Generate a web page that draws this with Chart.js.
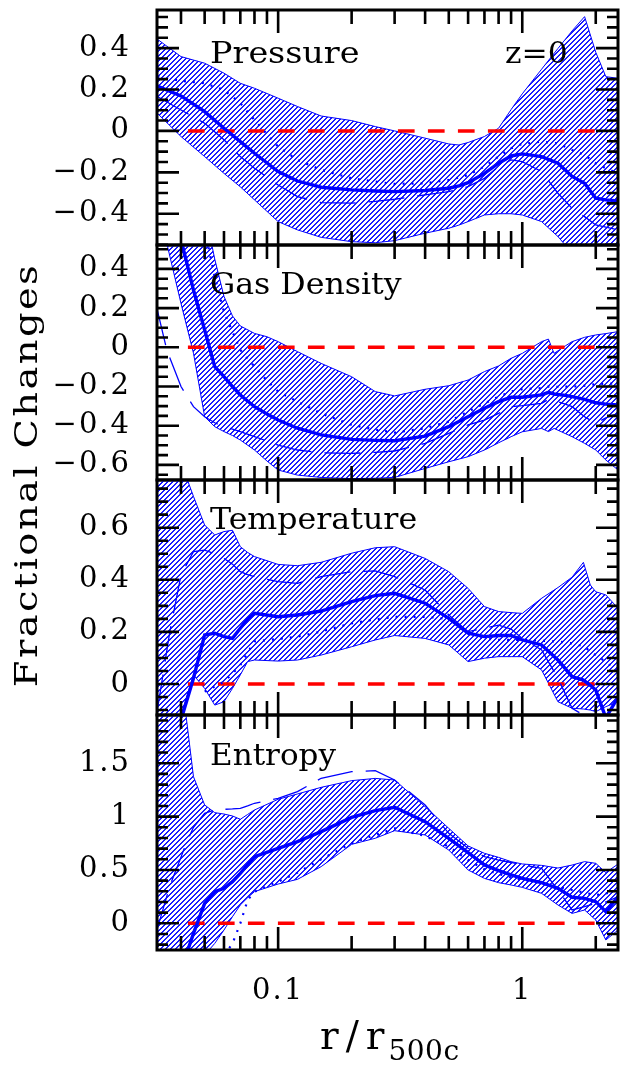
<!DOCTYPE html>
<html>
<head>
<meta charset="utf-8">
<script src="https://cdn.jsdelivr.net/npm/chart.js@4.4.0/dist/chart.umd.min.js"></script>
<style>
  html, body { margin: 0; padding: 0; background: #fff; }
  #wrap { position: relative; width: 621px; height: 1066px; overflow: hidden; background: #fff; }
  canvas { position: absolute; left: 0; }
  .txt { position: absolute; font-family: "DejaVu Serif", serif; color: #000; white-space: nowrap; line-height: 1; transform-origin: 0 0; }
</style>
</head>
<body>
<div id="wrap">
  <canvas id="c0" width="621" height="247" style="top:4px"></canvas>
  <canvas id="c1" width="621" height="247" style="top:239px"></canvas>
  <canvas id="c2" width="621" height="247" style="top:474px"></canvas>
  <canvas id="c3" width="621" height="357" style="top:709px"></canvas>

  <div class="txt" style="left:210px; top:39px; font-size:29px; transform:scaleX(1.15)">Pressure</div>
  <div class="txt" style="left:505px; top:39px; font-size:29px; transform:scaleX(1.08)">z=0</div>
  <div class="txt" style="left:210px; top:270px; font-size:29px; transform:scaleX(1.09)">Gas Density</div>
  <div class="txt" style="left:210px; top:505px; font-size:29px; transform:scaleX(1.09)">Temperature</div>
  <div class="txt" style="left:210px; top:741px; font-size:29px; transform:scaleX(1.07)">Entropy</div>

  <div class="txt" style="left:-214px; top:459px; width:480px; height:32px; font-size:32px; text-align:center; letter-spacing:2px; transform-origin:50% 50%; transform:rotate(-90deg) scaleX(1.2)">Fractional Changes</div>
  <div class="txt" style="left:320px; top:1016px; font-size:39px; letter-spacing:7px">r/r<span style="font-size:28px; letter-spacing:0.5px; position:relative; top:11px; margin-left:-3px">500c</span></div>
</div>

<script>
// ---- axes ----
const X_MIN = 0.0319, X_MAX = 2.467;
const xLabelTicks = [0.1, 1];
const xMinorTicks = [0.04, 0.05, 0.06, 0.07, 0.08, 0.09, 0.2, 0.3, 0.4, 0.5, 0.6, 0.7, 0.8, 0.9, 2];
const zeroLineR = [0.0427, 2.0];
const zeroLineV = [0, 0];

// ---- Pressure ----
const pressureTicks = [-0.4, -0.2, 0, 0.2, 0.4];
const pressureR   = [0.032, 0.04, 0.05, 0.06, 0.07, 0.08, 0.1, 0.12, 0.15, 0.2, 0.25, 0.3, 0.4, 0.5, 0.55, 0.6, 0.7, 0.8, 0.9, 1.0, 1.2, 1.4, 1.6, 1.8, 2.0, 2.2, 2.47];
const pressureHi  = [0.443, 0.359, 0.327, 0.279, 0.23, 0.206, 0.158, 0.118, 0.072, 0.05, 0.021, 0.0, -0.035, -0.063, -0.068, -0.056, -0.027, 0.013, 0.103, 0.179, 0.298, 0.398, 0.483, 0.552, 0.38, 0.262, 0.254];
const pressureLo  = [0.085, -0.027, -0.124, -0.205, -0.27, -0.333, -0.438, -0.478, -0.514, -0.535, -0.54, -0.53, -0.494, -0.47, -0.455, -0.438, -0.406, -0.4, -0.4, -0.406, -0.438, -0.51, -0.59, -0.65, -0.7, -0.72, -0.72];
const pressureMed = [0.217, 0.169, 0.093, 0.013, -0.052, -0.108, -0.196, -0.242, -0.272, -0.285, -0.29, -0.293, -0.288, -0.277, -0.265, -0.25, -0.205, -0.156, -0.121, -0.111, -0.124, -0.156, -0.22, -0.253, -0.325, -0.333, -0.338];
const pressureDash = [0.166, 0.101, 0.037, -0.043, -0.124, -0.18, -0.261, -0.317, -0.346, -0.349, -0.34, -0.33, -0.309, -0.293, -0.28, -0.269, -0.229, -0.172, -0.14, -0.148, -0.196, -0.301, -0.374, -0.414, -0.454, -0.465, -0.478];
const pressureDot = [0.262, 0.242, 0.23, 0.198, 0.134, 0.053, -0.076, -0.14, -0.188, -0.229, -0.245, -0.256, -0.253, -0.237, -0.225, -0.213, -0.172, -0.124, -0.084, -0.063, -0.052, -0.06, -0.092, -0.116, -0.156, -0.18, -0.205];

// ---- Gas Density ----
const densityTicks = [-0.6, -0.4, -0.2, 0, 0.2, 0.4];
const densityR   = [0.032, 0.035, 0.04, 0.045, 0.05, 0.055, 0.06, 0.065, 0.07, 0.08, 0.09, 0.1, 0.12, 0.15, 0.2, 0.25, 0.3, 0.4, 0.5, 0.6, 0.7, 0.8, 0.9, 1.0, 1.2, 1.28, 1.35, 1.5, 1.6, 1.8, 2.0, 2.2, 2.47];
const densityHi  = [1.2, 1.0, 0.9, 0.8, 0.7, 0.45, 0.26, 0.16, 0.109, 0.071, 0.054, 0.029, -0.022, -0.082, -0.15, -0.226, -0.248, -0.214, -0.196, -0.167, -0.124, -0.095, -0.056, -0.031, 0.029, 0.042, -0.031, 0.007, 0.029, 0.051, 0.063, 0.07, 0.08];
const densityLo  = [0.55, 0.53, 0.224, -0.03, -0.354, -0.405, -0.43, -0.45, -0.473, -0.524, -0.58, -0.626, -0.652, -0.664, -0.67, -0.668, -0.664, -0.618, -0.584, -0.558, -0.524, -0.487, -0.456, -0.431, -0.414, -0.43, -0.414, -0.44, -0.456, -0.49, -0.524, -0.575, -0.626];
const densityMed = [null, 1.2, 0.55, 0.292, 0.088, -0.099, -0.15, -0.2, -0.243, -0.303, -0.34, -0.371, -0.413, -0.447, -0.47, -0.475, -0.477, -0.453, -0.405, -0.354, -0.311, -0.277, -0.255, -0.255, -0.243, -0.23, -0.238, -0.245, -0.252, -0.266, -0.283, -0.29, -0.294];
const densityDash = [0.19, -0.014, -0.2, -0.303, -0.354, -0.385, -0.405, -0.418, -0.43, -0.456, -0.478, -0.499, -0.524, -0.538, -0.541, -0.536, -0.529, -0.49, -0.439, -0.396, -0.371, -0.337, -0.303, -0.298, -0.286, -0.266, -0.272, -0.29, -0.303, -0.354, -0.388, -0.36, -0.337];
const densityDot = [null, null, null, null, 0.6, 0.36, 0.18, 0.08, -0.014, -0.099, -0.17, -0.226, -0.277, -0.337, -0.396, -0.42, -0.435, -0.413, -0.379, -0.328, -0.286, -0.252, -0.226, -0.214, -0.208, -0.2, -0.202, -0.201, -0.201, -0.196, -0.188, -0.186, -0.184];

// ---- Temperature ----
const tempTicks = [0, 0.2, 0.4, 0.6];
const tempR   = [0.032, 0.036, 0.04, 0.045, 0.05, 0.055, 0.06, 0.065, 0.07, 0.075, 0.08, 0.1, 0.12, 0.15, 0.2, 0.25, 0.3, 0.4, 0.5, 0.6, 0.7, 0.8, 0.9, 1.0, 1.2, 1.4, 1.6, 1.78, 1.9, 2.0, 2.2, 2.47];
const tempHi  = [0.9, 0.9, 0.85, 0.72, 0.61, 0.572, 0.585, 0.59, 0.527, 0.505, 0.489, 0.459, 0.454, 0.467, 0.502, 0.523, 0.527, 0.482, 0.431, 0.367, 0.297, 0.278, 0.274, 0.271, 0.329, 0.37, 0.41, 0.467, 0.38, 0.354, 0.342, 0.29];
const tempLo  = [-0.2, -0.2, -0.119, 0.035, -0.017, -0.081, -0.068, -0.017, 0.035, 0.086, 0.092, 0.088, 0.092, 0.111, 0.143, 0.169, 0.186, 0.175, 0.15, 0.086, 0.099, 0.105, 0.105, 0.105, 0.054, -0.068, -0.093, -0.096, -0.1, -0.106, -0.087, -0.068];
const tempMed = [null, null, -0.138, 0.022, 0.188, 0.195, 0.182, 0.175, 0.214, 0.25, 0.271, 0.258, 0.265, 0.28, 0.316, 0.339, 0.348, 0.31, 0.252, 0.195, 0.182, 0.186, 0.186, 0.169, 0.15, 0.092, 0.028, 0.015, -0.005, -0.023, -0.13, -0.05];
const tempDash = [-0.1, 0.2, 0.418, 0.508, 0.514, 0.5, 0.482, 0.46, 0.431, 0.42, 0.412, 0.393, 0.386, 0.412, 0.431, 0.434, 0.412, 0.361, 0.265, 0.201, 0.214, 0.226, 0.211, 0.175, 0.131, 0.022, -0.093, -0.119, -0.15, null, null, null];
const tempDot = [null, null, null, null, -0.029, -0.01, 0.009, 0.04, 0.073, 0.12, 0.163, 0.173, 0.182, 0.201, 0.233, 0.248, 0.258, 0.258, 0.25, 0.198, 0.175, 0.169, 0.169, 0.169, 0.166, 0.163, 0.156, 0.145, 0.125, 0.111, 0.085, 0.047];

// ---- Entropy ----
const entropyTicks = [0, 0.5, 1, 1.5];
const entropyR   = [0.032, 0.036, 0.04, 0.042, 0.045, 0.05, 0.055, 0.06, 0.065, 0.07, 0.075, 0.08, 0.1, 0.12, 0.15, 0.2, 0.25, 0.3, 0.4, 0.5, 0.6, 0.7, 0.8, 0.9, 1.0, 1.2, 1.4, 1.6, 1.8, 2.0, 2.2, 2.47];
const entropyHi  = [2.3, 2.2, 2.05, 1.937, 1.374, 1.109, 1.037, 1.024, 1.006, 0.975, 1.02, 1.062, 1.162, 1.212, 1.274, 1.337, 1.358, 1.343, 1.093, 0.89, 0.725, 0.656, 0.618, 0.578, 0.556, 0.543, 0.518, 0.546, 0.578, 0.562, 0.475, 0.556];
const entropyLo  = [-0.3, -0.3, -0.3, -0.3, -0.3, -0.297, -0.188, -0.063, 0.062, 0.172, 0.24, 0.297, 0.368, 0.412, 0.531, 0.74, 0.797, 0.868, 0.828, 0.687, 0.5, 0.421, 0.381, 0.359, 0.337, 0.281, 0.172, 0.093, 0.125, 0.031, -0.156, -0.062];
const entropyMed = [null, null, null, -0.297, -0.094, 0.187, 0.297, 0.328, 0.39, 0.468, 0.55, 0.625, 0.703, 0.765, 0.859, 0.993, 1.056, 1.087, 0.953, 0.797, 0.662, 0.547, 0.494, 0.453, 0.421, 0.381, 0.328, 0.244, 0.234, 0.203, 0.109, 0.25];
const entropyDash = [-0.05, 0.35, 0.62, 0.75, 0.9, 1.03, 1.062, 1.068, 1.072, 1.078, 1.1, 1.125, 1.171, 1.234, 1.359, 1.421, 1.43, 1.343, 1.109, 0.843, 0.703, 0.625, 0.593, 0.57, 0.546, 0.515, 0.312, 0.125, 0.156, 0.187, 0.2, 0.25];
const entropyDot = [null, null, null, null, null, null, null, -0.3, -0.19, 0.0, 0.218, 0.297, 0.39, 0.475, 0.6, 0.75, 0.828, 0.89, 0.818, 0.718, 0.593, 0.506, 0.462, 0.43, 0.406, 0.375, 0.343, 0.312, 0.287, 0.265, 0.28, 0.312];

const BLUE = "#0000ff";
const RED = "#ff0000";

function pts(r, v) {
  return r.map((x, i) => ({ x: x, y: v[i] }));
}

function hatchPattern(ctx) {
  const c = document.createElement("canvas");
  c.width = 5;
  c.height = 5;
  const g = c.getContext("2d");
  g.fillStyle = "#1a1aff";
  for (let i = 0; i < 5; i++) {
    g.fillRect(i, 4 - i, 1, 1);
    g.fillRect((i + 1) % 5, 4 - i, 1, 1);
  }
  return ctx.createPattern(c, "repeat");
}

function fmt(v) {
  const s = String(Math.round(Math.abs(v) * 100) / 100);
  return v < 0 ? "\u2212" + s : s;
}

// no label padding: the chart areas have to butt against each other
function noPad(s) {
  s.paddingTop = 0;
  s.paddingBottom = 0;
  s.paddingLeft = 0;
  s.paddingRight = 0;
}

// inward ticks on all four sides plus the frame
const frameTicks = {
  id: "frameTicks",
  beforeDraw(chart) {
    chart.ctx.letterSpacing = "2px";
  },
  afterDraw(chart, args, opts) {
    const { ctx, chartArea: a } = chart;
    const x = chart.scales.x, y = chart.scales.y;
    ctx.save();
    ctx.letterSpacing = "0px";
    ctx.strokeStyle = "#000";
    ctx.lineWidth = 2.6;
    ctx.lineCap = "butt";
    ctx.beginPath();
    const xt = (v, len) => {
      const px = x.getPixelForValue(v);
      ctx.moveTo(px, a.top); ctx.lineTo(px, a.top + len);
      ctx.moveTo(px, a.bottom); ctx.lineTo(px, a.bottom - len);
    };
    const yt = (v, len) => {
      const py = y.getPixelForValue(v);
      ctx.moveTo(a.left, py); ctx.lineTo(a.left + len, py);
      ctx.moveTo(a.right, py); ctx.lineTo(a.right - len, py);
    };
    xMinorTicks.forEach(v => xt(v, 14));
    xLabelTicks.forEach(v => xt(v, 23));
    const step = opts.minor;
    for (let k = Math.ceil(y.min / step - 1e-6); k * step <= y.max + 1e-9; k++) {
      const v = k * step;
      if (opts.major.some(m => Math.abs(m - v) < 1e-6)) continue;
      yt(v, 11);
    }
    opts.major.forEach(v => yt(v, 22));
    ctx.stroke();
    ctx.lineWidth = 3;
    ctx.strokeRect(a.left, a.top, a.right - a.left, a.bottom - a.top);
    ctx.restore();
  }
};

function makePanel(id, p) {
  const canvas = document.getElementById(id);
  const pattern = hatchPattern(canvas.getContext("2d"));
  return new Chart(canvas, {
    type: "line",
    data: {
      datasets: [
        { data: pts(p.r, p.med), borderColor: BLUE, borderWidth: 3.4 },
        { data: pts(p.r, p.dash), borderColor: BLUE, borderWidth: 1.3, borderDash: [36, 13] },
        { data: pts(p.r, p.dot), borderColor: BLUE, borderWidth: 2.2, borderDash: [2, 7] },
        { data: pts(zeroLineR, zeroLineV), borderColor: RED, borderWidth: 3.5, borderDash: [16.7, 13.3] },
        { data: pts(p.r, p.hi), borderColor: BLUE, borderWidth: 1 },
        { data: pts(p.r, p.lo), borderColor: BLUE, borderWidth: 1, fill: "-1", backgroundColor: pattern }
      ]
    },
    options: {
      responsive: false,
      animation: false,
      devicePixelRatio: 1,
      layout: { padding: { top: 6, bottom: p.last ? 0 : 6, left: 0, right: 3 } },
      elements: { point: { radius: 0 }, line: { tension: 0 } },
      plugins: {
        legend: { display: false },
        tooltip: { enabled: false },
        frameTicks: { major: p.ticks, minor: p.minor }
      },
      scales: {
        x: {
          type: "logarithmic",
          min: X_MIN,
          max: X_MAX,
          grid: { display: false },
          border: { display: false },
          afterBuildTicks: s => { s.ticks = xLabelTicks.map(v => ({ value: v })); },
          afterFit: s => { s.height = p.last ? 116 : 0; noPad(s); },
          ticks: {
            display: !!p.last,
            autoSkip: false,
            maxRotation: 0,
            padding: 16,
            color: "#000",
            font: { family: "DejaVu Serif", size: 29 },
            callback: v => String(v)
          }
        },
        y: {
          min: p.min,
          max: p.max,
          grid: { display: false },
          border: { display: false },
          afterBuildTicks: s => { s.ticks = p.ticks.map(v => ({ value: v })); },
          afterFit: s => { s.width = 157; noPad(s); },
          ticks: {
            padding: 18,
            color: "#000",
            font: { family: "DejaVu Serif", size: 29 },
            callback: v => fmt(v)
          }
        }
      }
    },
    plugins: [frameTicks]
  });
}

makePanel("c0", { r: pressureR, hi: pressureHi, lo: pressureLo, med: pressureMed, dash: pressureDash, dot: pressureDot,
  min: -0.551, max: 0.584, ticks: pressureTicks, minor: 0.05 });
makePanel("c1", { r: densityR, hi: densityHi, lo: densityLo, med: densityMed, dash: densityDash, dot: densityDot,
  min: -0.677, max: 0.522, ticks: densityTicks, minor: 0.05 });
makePanel("c2", { r: tempR, hi: tempHi, lo: tempLo, med: tempMed, dash: tempDash, dot: tempDot,
  min: -0.119, max: 0.783, ticks: tempTicks, minor: 0.05 });
makePanel("c3", { r: entropyR, hi: entropyHi, lo: entropyLo, med: entropyMed, dash: entropyDash, dot: entropyDot,
  min: -0.25, max: 1.952, ticks: entropyTicks, minor: 0.1, last: true });
</script>
</body>
</html>
